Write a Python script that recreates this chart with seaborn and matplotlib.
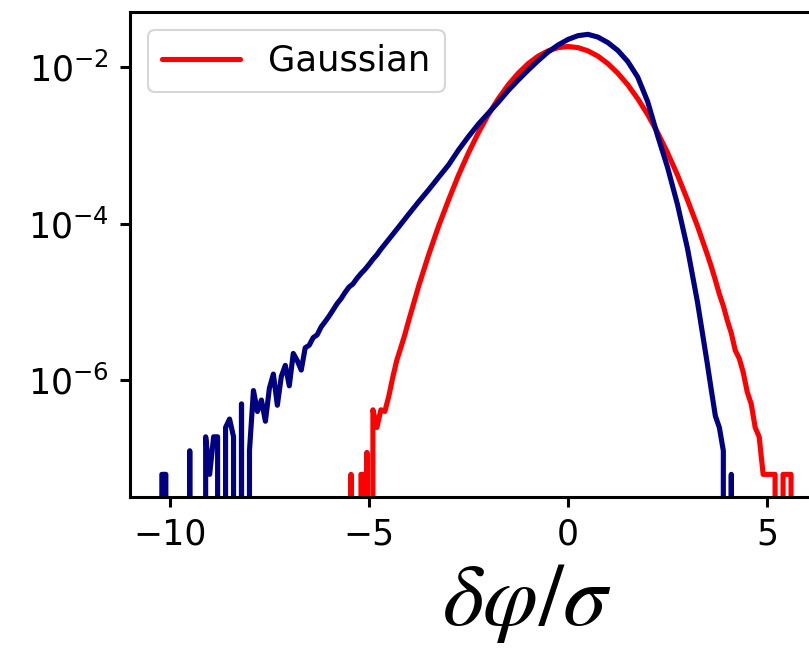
import matplotlib
matplotlib.use("Agg")
import matplotlib.pyplot as plt
import seaborn as sns
import numpy as np

# ---- data (histogram probability per bin) ----
skewed_x = [-10.4, -10.3, -10.2, -10.1, -10.0, -9.9, -9.8, -9.7, -9.6, -9.5,
            -9.4, -9.3, -9.2, -9.1, -9.0, -8.9, -8.8, -8.7, -8.6, -8.5,
            -8.4, -8.3, -8.2, -8.1, -8.0, -7.9, -7.8, -7.7, -7.6, -7.5,
            -7.4, -7.3, -7.2, -7.1, -7.0, -6.9, -6.8, -6.7, -6.6, -6.5,
            -6.4, -6.3, -6.2, -6.1, -6.0, -5.9, -5.8, -5.7, -5.6, -5.5,
            -5.4, -5.3, -5.2, -5.1, -5.0, -4.9, -4.8, -4.7, -4.5, -4.25,
            -4.0, -3.75, -3.5, -3.25, -3.0, -2.75, -2.5, -2.25, -2.0, -1.75,
            -1.5, -1.25, -1.0, -0.75, -0.5, -0.25, 0.0, 0.25, 0.5, 0.75,
            1.0, 1.25, 1.5, 1.75, 2.0, 2.25, 2.5, 2.75, 3.0, 3.25,
            3.5, 3.6, 3.7, 3.8, 3.9, 4.0, 4.1, 4.2]
skewed_p = [0, 0, 6.3e-8, 6.3e-8, 0, 0, 0, 0, 0, 1.26e-7,
            0, 0, 0, 1.9e-7, 6.3e-8, 1.9e-7, 1.9e-7, 0, 2.5e-7, 3.2e-7,
            1.9e-7, 0, 5.0e-7, 0, 1.26e-7, 7.4e-7, 4.0e-7, 5.6e-7, 3.0e-7, 7.9e-7,
            1.2e-6, 4.8e-7, 1.12e-6, 1.55e-6, 8.5e-7, 2.2e-6, 1.78e-6, 1.35e-6, 2.6e-6, 2.8e-6,
            3.5e-6, 3.8e-6, 4.8e-6, 5.6e-6, 6.6e-6, 7.9e-6, 9.5e-6, 1.1e-5, 1.32e-5, 1.55e-5,
            1.7e-5, 2.0e-5, 2.3e-5, 2.6e-5, 3.0e-5, 3.5e-5, 4.0e-5, 4.7e-5, 6.3e-5, 9.1e-5,
            1.32e-4, 1.9e-4, 2.7e-4, 3.9e-4, 5.6e-4, 8.7e-4, 1.29e-3, 1.86e-3, 2.57e-3, 3.55e-3,
            5.0e-3, 6.8e-3, 9.1e-3, 1.2e-2, 1.55e-2, 1.9e-2, 2.24e-2, 2.5e-2, 2.6e-2, 2.4e-2,
            2.04e-2, 1.62e-2, 1.17e-2, 7.4e-3, 3.6e-3, 1.32e-3, 5.2e-4, 1.74e-4, 4.8e-5, 1.0e-5,
            1.6e-6, 7.4e-7, 3.5e-7, 2.5e-7, 1.26e-7, 0, 6.3e-8, 0]

gauss_x = [-5.6, -5.5, -5.45, -5.4, -5.3, -5.2, -5.15, -5.1, -5.05, -5.0,
           -4.95, -4.9, -4.8, -4.7, -4.6, -4.5, -4.4, -4.3, -4.2, -4.1,
           -4.0, -3.75, -3.5, -3.25, -3.0, -2.75, -2.5, -2.25, -2.0, -1.75,
           -1.5, -1.25, -1.0, -0.75, -0.5, -0.25, 0.0, 0.25, 0.5, 0.75,
           1.0, 1.25, 1.5, 1.75, 2.0, 2.25, 2.5, 2.75, 3.0, 3.25,
           3.5, 3.6, 3.7, 3.8, 3.9, 4.0, 4.1, 4.2, 4.3, 4.4,
           4.5, 4.6, 4.7, 4.8, 4.9, 5.0, 5.1, 5.2, 5.3, 5.4,
           5.5, 5.6, 5.7, 5.8]
gauss_p = [0, 0, 6.3e-8, 0, 0, 6.3e-8, 6.3e-8, 0, 1.2e-7, 0,
           0, 4.2e-7, 2.5e-7, 4.2e-7, 4.0e-7, 6.3e-7, 1.1e-6, 1.8e-6, 2.6e-6, 3.8e-6,
           5.8e-6, 1.6e-5, 4.0e-5, 9.3e-5, 2.0e-4, 4.15e-4, 8.0e-4, 1.45e-3, 2.46e-3, 3.93e-3,
           5.9e-3, 8.3e-3, 1.1e-2, 1.37e-2, 1.6e-2, 1.76e-2, 1.82e-2, 1.76e-2, 1.6e-2, 1.37e-2,
           1.1e-2, 8.3e-3, 5.9e-3, 3.93e-3, 2.46e-3, 1.45e-3, 8.0e-4, 4.15e-4, 2.0e-4, 9.3e-5,
           4.0e-5, 2.8e-5, 1.9e-5, 1.26e-5, 8.9e-6, 5.8e-6, 4.0e-6, 2.4e-6, 1.9e-6, 1.26e-6,
           7.1e-7, 5.0e-7, 2.5e-7, 1.9e-7, 6.3e-8, 6.3e-8, 6.3e-8, 6.3e-8, 0, 6.3e-8,
           6.3e-8, 6.3e-8, 0, 0]

x_ticks = [-10, -5, 0, 5]
y_ticks = [1e-2, 1e-4, 1e-6]
legend_label = "Gaussian"
x_label = r"$\delta\varphi/\sigma$"

# ---- style ----
sns.set_style("ticks")
plt.rcParams["font.family"] = ["DejaVu Sans"]
plt.rcParams.update({"text.color": "black", "axes.labelcolor": "black",
                     "xtick.color": "black", "ytick.color": "black"})

fig = plt.figure(figsize=(8.09, 6.5), dpi=100)
ax = fig.add_axes([0.1607, 0.2354, 0.886, 0.746])

sns.lineplot(x=gauss_x, y=gauss_p, color="#ff0000", linewidth=3.7,
             label=legend_label, ax=ax, sort=False)
sns.lineplot(x=skewed_x, y=skewed_p, color="#000080", linewidth=3.7,
             label="_nolegend_", ax=ax, sort=False)

ax.set_yscale("log")
ax.set_xlim(-11, 7)
ax.set_ylim(3.24e-8, 0.05)
ax.set_xticks(x_ticks)
ax.set_yticks(y_ticks)
ax.yaxis.set_minor_locator(matplotlib.ticker.NullLocator())
ax.xaxis.set_minor_locator(matplotlib.ticker.NullLocator())

for s in ax.spines.values():
    s.set_linewidth(2.2)
    s.set_color("black")
ax.tick_params(axis="both", which="major", direction="out", length=7,
               width=2.2, labelsize=25, pad=8, colors="black")

ax.set_xlabel(x_label, fontsize=64, math_fontfamily="stix", color="black")
ax.xaxis.set_label_coords(0.554, -0.125)

handles = [ax.get_lines()[0]]
leg = ax.legend(handles=handles, labels=[legend_label], loc="upper left",
                fontsize=25.5, frameon=True, handlelength=2.2)
leg.get_frame().set_linewidth(1.5)

fig.savefig("out.png", dpi=100)
